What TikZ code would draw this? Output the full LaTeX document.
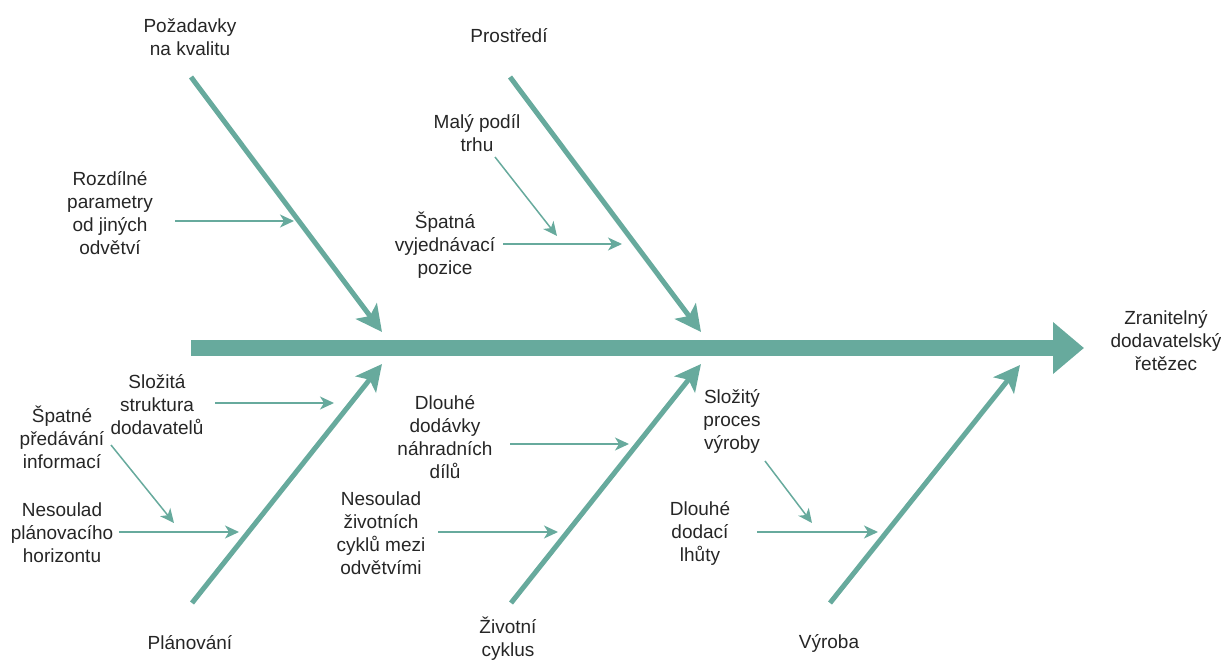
\documentclass[tikz,border=0pt]{standalone}
\usepackage{fontspec}
\setmainfont{Liberation Sans}
\usetikzlibrary{arrows.meta}
\definecolor{bone}{RGB}{103,170,157}
\begin{document}
\begin{tikzpicture}[x=1pt,y=-1pt,
  lbl/.style={align=center,inner sep=0pt,text=black!85,font=\fontsize{19}{23}\selectfont},
  spine/.style={draw=bone,line width=16pt,-{Triangle[length=31pt,width=50pt]}},
  mainbone/.style={draw=bone,line width=5pt,-{Stealth[length=26pt,width=26pt,inset=6pt]}},
  cause/.style={draw=bone,line width=1.5pt,-{Stealth[length=14pt,width=13pt,inset=4pt]}}]
\useasboundingbox (0,0) rectangle (1221,663);
\clip (0,0) rectangle (1221,663);

% backbone and effect
\coordinate (s0) at (191,348);
\coordinate (s1) at (1084,348);
\draw[spine] (s0) -- (s1);
\node[lbl] (effect) at (1166,341) {Zranitelný\\dodavatelský\\řetězec};

% category bones
\coordinate (b1s) at (191,77);  \coordinate (b1e) at (382,332);
\coordinate (b2s) at (510,77);  \coordinate (b2e) at (701,332);
\coordinate (b3s) at (192,603); \coordinate (b3e) at (382,364);
\coordinate (b4s) at (511,603); \coordinate (b4e) at (701,364);
\coordinate (b5s) at (830,603); \coordinate (b5e) at (1020,365);
\draw[mainbone] (b1s) -- (b1e);
\draw[mainbone] (b2s) -- (b2e);
\draw[mainbone] (b3s) -- (b3e);
\draw[mainbone] (b4s) -- (b4e);
\draw[mainbone] (b5s) -- (b5e);

% category labels
\node[lbl] (kval) at (190,37) {Požadavky\\na kvalitu};
\node[lbl] (prost) at (509,36) {Prostředí};
\node[lbl] (plan) at (190,643) {Plánování};
\node[lbl] (zivot) at (508,639) {Životní\\cyklus};
\node[lbl] (vyr) at (829,643) {Výroba};

% causes
\node[lbl] (c1) at (110,213) {Rozdílné\\parametry\\od jiných\\odvětví};
\node[lbl] (c2) at (477,133) {Malý podíl\\trhu};
\node[lbl] (c3) at (445,245) {Špatná\\vyjednávací\\pozice};
\node[lbl] (c4) at (157,405) {Složitá\\struktura\\dodavatelů};
\node[lbl] (c5) at (62,437) {Špatné\\předávání\\informací};
\node[lbl] (c6) at (62,533) {Nesoulad\\plánovacího\\horizontu};
\node[lbl] (c7) at (445,437) {Dlouhé\\dodávky\\náhradních\\dílů};
\node[lbl] (c8) at (381,533) {Nesoulad\\životních\\cyklů mezi\\odvětvími};
\node[lbl] (c9) at (732,421) {Složitý\\proces\\výroby};
\node[lbl] (c10) at (700,533) {Dlouhé\\dodací\\lhůty};

% cause arrows
\coordinate (a1s) at (175,221);  \coordinate (a1e) at (294,221);
\coordinate (a2s) at (495,157);  \coordinate (a2e) at (557,236);
\coordinate (a3s) at (503,244);  \coordinate (a3e) at (622,244);
\coordinate (a4s) at (215,403);  \coordinate (a4e) at (334,403);
\coordinate (a5s) at (111,445);  \coordinate (a5e) at (174,523);
\coordinate (a6s) at (119,532);  \coordinate (a6e) at (239,532);
\coordinate (a7s) at (510,444);  \coordinate (a7e) at (629,444);
\coordinate (a8s) at (438,532);  \coordinate (a8e) at (558,532);
\coordinate (a9s) at (765,461);  \coordinate (a9e) at (812,523);
\coordinate (a10s) at (757,532); \coordinate (a10e) at (878,532);
\foreach \i in {1,...,10} {\draw[cause] (a\i s) -- (a\i e);}
\end{tikzpicture}
\end{document}
